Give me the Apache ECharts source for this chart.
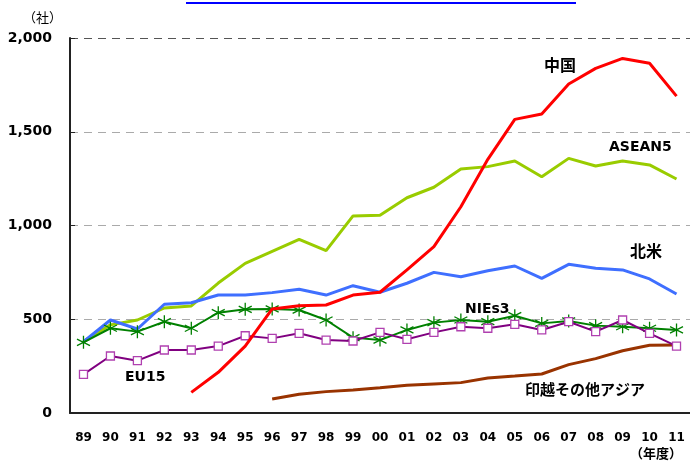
<!DOCTYPE html>
<html><head><meta charset="utf-8">
<script src="https://cdn.jsdelivr.net/npm/echarts@6/dist/echarts.min.js"></script>
<style>html,body{margin:0;padding:0;background:#fff}#c{width:690px;height:462px}</style>
</head><body><div id="c"></div>
<script>
const years = ['89','90','91','92','93','94','95','96','97','98','99','00','01','02','03','04','05','06','07','08','09','10','11'];
const yTicks = [0, 500, 1000, 1500, 2000];
const china  = [null,null,null,null,110,217,357,555,572,576,629,644,763,887,1100,1353,1566,1595,1755,1838,1891,1865,1690];
const asean5 = [383,470,496,560,571,693,798,862,926,866,1051,1055,1148,1204,1301,1314,1344,1260,1358,1317,1344,1323,1248];
const namer  = [380,496,448,580,588,629,629,642,660,629,679,644,692,750,727,759,784,718,793,772,763,715,635];
const nies3  = [377,452,434,487,452,535,553,555,549,496,402,389,443,482,496,487,519,478,491,466,460,452,443];
const eu15   = [206,304,279,336,336,357,412,398,425,389,384,430,393,430,460,452,473,443,487,434,496,425,357];
const others = [null,null,null,null,null,null,null,75,100,114,123,135,148,155,162,187,197,208,258,290,332,361,363];

const F = '"DejaVu Sans", "Noto Sans CJK JP", sans-serif';
const chart = echarts.init(document.getElementById('c'));
const asterisk = 'path://M0,-6L0,6M-5.2,-3L5.2,3M-5.2,3L5.2,-3';
function line(name, data, color, width, extra) {
  return Object.assign({
    name, type: 'line', data, connectNulls: false, showSymbol: false, symbol: 'none',
    lineStyle: {color, width}, itemStyle: {color}, animation: false, z: 2
  }, extra || {});
}
chart.setOption({
  animation: false,
  grid: {left: 70, top: 38, width: 625, height: 375},
  xAxis: {
    type: 'category', data: years, boundaryGap: true,
    axisLine: {lineStyle: {color: '#222', width: 2}},
    axisTick: {inside: true, length: 5, lineStyle: {color: '#222'}},
    axisLabel: {margin: 19, fontFamily: F, fontWeight: 'bold', fontSize: 12, color: '#000'}
  },
  yAxis: {
    type: 'value', min: yTicks[0], max: yTicks[yTicks.length - 1], interval: yTicks[1] - yTicks[0],
    axisLine: {show: true, lineStyle: {color: '#222', width: 2}},
    axisTick: {show: true, inside: true, length: 5, lineStyle: {color: '#222'}},
    axisLabel: {margin: 18, fontFamily: F, fontWeight: 'bold', fontSize: 14, color: '#000',
      formatter: v => v.toLocaleString('en-US')},
    splitLine: {show: true, lineStyle: {color: ['#999', '#aaa', '#aaa', '#aaa', '#555'], type: [8, 6], width: 1}}
  },
  series: [
    line('ASEAN5', asean5, '#99cc00', 3),
    line('北米', namer, '#3f6fff', 3),
    line('印越その他アジア', others, '#993300', 3),
    line('NIEs3', nies3, '#008000', 2, {
      symbol: asterisk, symbolSize: 13, showSymbol: true,
      itemStyle: {color: '#008000', borderColor: '#008000', borderWidth: 1.3}, z: 3
    }),
    line('EU15', eu15, '#800080', 2, {
      symbol: 'rect', symbolSize: 8, showSymbol: true,
      itemStyle: {color: '#fff', borderColor: '#b040b0', borderWidth: 1.3}, z: 4
    }),
    line('中国', china, '#ff0000', 3, {z: 5})
  ],
  graphic: [
    {type: 'line', shape: {x1: 186, y1: 3, x2: 576, y2: 3}, style: {stroke: '#0000ff', lineWidth: 2}},
    {type: 'text', left: 23, top: 12, style: {text: '（社）', font: '13px ' + F, fill: '#000'}},
    {type: 'text', left: 630, top: 448, style: {text: '（年度）', font: 'bold 13px ' + F, fill: '#000'}},
    {type: 'text', left: 544, top: 59, style: {text: '中国', font: 'bold 16px ' + F, fill: '#000'}},
    {type: 'text', left: 609, top: 140, style: {text: 'ASEAN5', font: 'bold 14px ' + F, fill: '#000'}},
    {type: 'text', left: 630, top: 245, style: {text: '北米', font: 'bold 16px ' + F, fill: '#000'}},
    {type: 'text', left: 465, top: 302, style: {text: 'NIEs3', font: 'bold 14px ' + F, fill: '#000'}},
    {type: 'text', left: 125, top: 370, style: {text: 'EU15', font: 'bold 14px ' + F, fill: '#000'}},
    {type: 'text', left: 525, top: 384, style: {text: '印越その他アジア', font: 'bold 15px ' + F, fill: '#000'}}
  ]
});
</script></body></html>
